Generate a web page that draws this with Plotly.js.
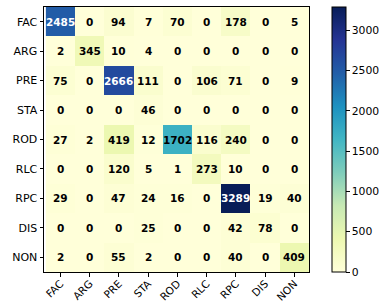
<!DOCTYPE html>
<html><head><meta charset="utf-8">
<script src="https://cdn.plot.ly/plotly-3.0.1.min.js"></script>
<style>html,body{margin:0;padding:0;background:#fff}#c{width:390px;height:304px}</style>
</head><body><div id="c"></div>
<script>
const labels = ["FAC","ARG","PRE","STA","ROD","RLC","RPC","DIS","NON"];
const matrix = [
  [2485,0,94,7,70,0,178,0,5],
  [2,345,10,4,0,0,0,0,0],
  [75,0,2666,111,0,106,71,0,9],
  [0,0,0,46,0,0,0,0,0],
  [27,2,419,12,1702,116,240,0,0],
  [0,0,120,5,1,273,10,0,0],
  [29,0,47,24,16,0,3289,19,40],
  [0,0,0,25,0,0,42,78,0],
  [2,0,55,2,0,0,40,0,409]
];
const cbTicks = [0,500,1000,1500,2000,2500,3000];
const ylgnbu = [[0,'rgb(255,255,217)'],[0.125,'rgb(237,248,177)'],[0.25,'rgb(199,233,180)'],[0.375,'rgb(127,205,187)'],[0.5,'rgb(65,182,196)'],[0.625,'rgb(29,145,192)'],[0.75,'rgb(34,94,168)'],[0.875,'rgb(37,52,148)'],[1,'rgb(8,29,88)']];
const zmax = Math.max(...matrix.flat());
const annotations = [];
matrix.forEach((row,i)=>row.forEach((v,j)=>{
  annotations.push({x:labels[j], y:labels[i], text:'<b>'+v+'</b>', showarrow:false,
    font:{family:'DejaVu Sans', size:10.5, color: v > 2000 ? '#ffffff' : '#000000'}});
}));
const trace = {type:'heatmap', z:matrix, x:labels, y:labels, colorscale:ylgnbu, zmin:0, zmax:zmax,
  xgap:0, ygap:0, hoverinfo:'skip',
  colorbar:{x:1.086, xanchor:'left', y:0.5, yanchor:'middle', len:1, lenmode:'fraction', thickness:14,
    outlinewidth:1, outlinecolor:'#000', ticks:'outside', ticklen:3.5, tickwidth:1, tickcolor:'#000',
    tickvals:cbTicks, ticktext:cbTicks.map(String), tickfont:{family:'DejaVu Sans', size:10.8, color:'#000'}, xpad:0, ypad:0}
};
const layout = {width:390, height:304, margin:{l:44, r:81, t:6.5, b:32}, paper_bgcolor:'#fff', plot_bgcolor:'#fff',
  font:{family:'DejaVu Sans', size:11, color:'#000'},
  xaxis:{type:'category', tickangle:-45, ticks:'outside', ticklen:3.5, tickcolor:'#000', showline:true, linecolor:'#000', linewidth:1, mirror:true, showgrid:false, zeroline:false, tickfont:{size:10.5}, ticklabelstandoff:-3},
  yaxis:{type:'category', autorange:'reversed', ticks:'outside', ticklen:3.5, tickcolor:'#000', showline:true, linecolor:'#000', linewidth:1, mirror:true, showgrid:false, zeroline:false, tickfont:{size:11}},
  annotations:annotations
};
Plotly.newPlot('c',[trace],layout,{displayModeBar:false, staticPlot:true});
</script></body></html>
